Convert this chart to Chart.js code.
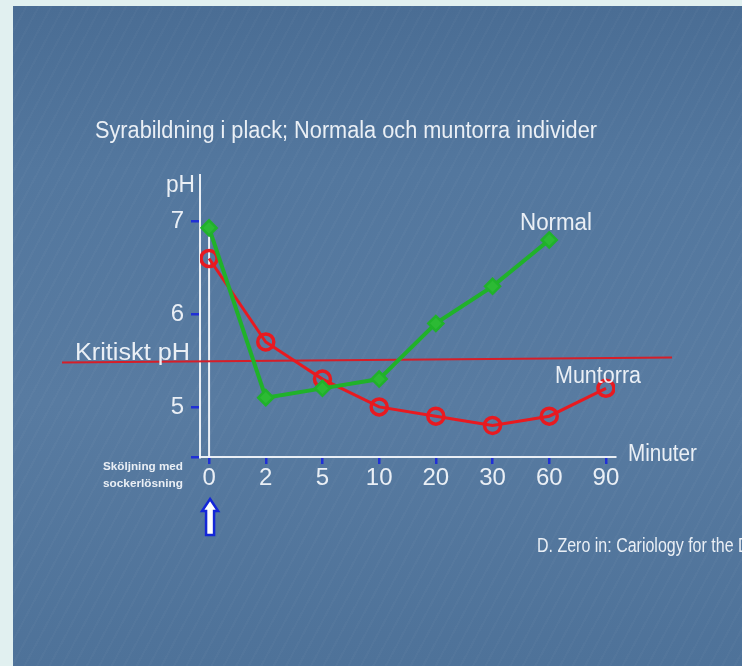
<!DOCTYPE html>
<html>
<head>
<meta charset="utf-8">
<script src="https://cdn.jsdelivr.net/npm/chart.js@4"></script>
<style>
  html, body { margin: 0; padding: 0; background: #e1f0f0; }
  #slide {
    position: absolute; left: 13px; top: 6px; width: 729px; height: 660px;
    background:
      repeating-linear-gradient(118deg, rgba(255,255,255,0.025) 0 2px, rgba(255,255,255,0) 2px 11px),
      linear-gradient(180deg, #4a6d94 0%, #53779e 25%, #587ba1 60%, #4e7299 100%);
  }
  #chart { position: absolute; left: 0; top: 0; }
</style>
</head>
<body>
<div id="slide"></div>
<canvas id="chart" width="742" height="666" style="width:742px;height:666px"></canvas>
<script>
// minutes after rinse with sugar solution
const minutes = ['0', '2', '5', '10', '20', '30', '60', '90'];
// plaque pH, normal individuals
const normalPh = [6.93, 5.1, 5.2, 5.3, 5.9, 6.3, 6.8, null];
// plaque pH, dry-mouth individuals
const muntorraPh = [6.6, 5.7, 5.3, 5.0, 4.9, 4.8, 4.9, 5.2];
const phTicks = [5, 6, 7];
const kritisktPh = 5.5;

const GREEN = 'rgb(32,178,42)';
const RED = 'rgb(232,26,32)';
const WHITE = 'rgba(242,246,250,0.95)';
const TICKBLUE = '#1f2fd6';
const NARROW = "'Liberation Sans Narrow', 'Arial Narrow', 'Liberation Sans', Arial, sans-serif";

// draw text squeezed to a given width
function fitText(ctx, s, x, y, size, w, opts = {}) {
  ctx.save();
  ctx.font = (opts.bold ? 'bold ' : '') + size + 'px ' + (opts.family || "'Liberation Sans', Arial, sans-serif");
  ctx.fillStyle = opts.color || WHITE;
  ctx.textBaseline = 'alphabetic';
  const natural = ctx.measureText(s).width;
  const sx = w ? w / natural : (opts.sx || 1);
  ctx.translate(x, y);
  ctx.scale(sx, 1);
  ctx.fillText(s, 0, 0);
  ctx.restore();
}

const slidePlugin = {
  id: 'slideText',
  beforeDatasetsDraw(chart) {
    const { ctx, scales: { x, y } } = chart;
    ctx.save();
    // vertical line at time 0
    ctx.strokeStyle = WHITE;
    ctx.lineWidth = 2;
    ctx.beginPath();
    ctx.moveTo(x.getPixelForValue(0), y.getPixelForValue(7));
    ctx.lineTo(x.getPixelForValue(0), y.bottom);
    ctx.stroke();
    // critical pH line
    const yk = y.getPixelForValue(kritisktPh);
    ctx.strokeStyle = 'rgb(214,30,40)';
    ctx.lineWidth = 2;
    ctx.beginPath();
    ctx.moveTo(62, yk + 2);
    ctx.lineTo(672, yk - 3);
    ctx.stroke();
    ctx.restore();
  },
  afterDraw(chart) {
    const { ctx, scales: { x } } = chart;
    fitText(ctx, 'Syrabildning i plack; Normala och muntorra individer', 95, 138, 23, 502);
    fitText(ctx, 'pH', 166, 192, 23, 29);
    fitText(ctx, 'Kritiskt pH', 75, 360, 23, 115);
    fitText(ctx, 'Normal', 520, 230, 23, 72);
    fitText(ctx, 'Muntorra', 555, 383, 23, 86);
    fitText(ctx, 'Minuter', 628, 461, 23, 69);
    fitText(ctx, 'D. Zero in: Cariology for the Dental Practitioner', 537, 552, 20, null, { sx: 0.8 });
    fitText(ctx, 'Sköljning med', 103, 470, 10, 80, { bold: true });
    fitText(ctx, 'sockerlösning', 103, 487, 10, 80, { bold: true });

    // arrow under time 0
    const ax = x.getPixelForValue(0) + 1;
    ctx.save();
    ctx.fillStyle = '#ffffff';
    ctx.strokeStyle = '#1326d8';
    ctx.lineWidth = 2.5;
    ctx.lineJoin = 'miter';
    ctx.beginPath();
    ctx.moveTo(ax, 499);
    ctx.lineTo(ax + 8, 511);
    ctx.lineTo(ax + 4, 511);
    ctx.lineTo(ax + 4, 535);
    ctx.lineTo(ax - 4, 535);
    ctx.lineTo(ax - 4, 511);
    ctx.lineTo(ax - 8, 511);
    ctx.closePath();
    ctx.fill();
    ctx.stroke();
    ctx.restore();
  }
};

new Chart(document.getElementById('chart'), {
  type: 'line',
  data: {
    datasets: [
      {
        label: 'Normal',
        data: normalPh.map((v, i) => ({ x: i, y: v })),
        borderColor: GREEN,
        backgroundColor: GREEN,
        borderWidth: 4,
        pointStyle: 'rectRot',
        pointRadius: 7.5,
        pointBorderWidth: 2.5,
        pointBackgroundColor: 'rgb(44,186,52)',
        tension: 0,
        spanGaps: false
      },
      {
        label: 'Muntorra',
        data: muntorraPh.map((v, i) => ({ x: i, y: v })),
        borderColor: RED,
        backgroundColor: 'rgba(0,0,0,0)',
        borderWidth: 3,
        pointStyle: 'circle',
        pointRadius: 8,
        pointBorderWidth: 3.5,
        pointBackgroundColor: 'rgba(0,0,0,0)',
        tension: 0
      }
    ]
  },
  options: {
    responsive: false,
    animation: false,
    layout: { padding: { left: 0, top: 175, right: 127, bottom: 179 } },
    plugins: { legend: { display: false }, tooltip: { enabled: false } },
    scales: {
      x: {
        type: 'linear',
        min: -0.16,
        max: 7.16,
        afterBuildTicks: scale => { scale.ticks = minutes.map((m, i) => ({ value: i })); },
        afterFit: scale => { scale.height = 30; },
        ticks: {
          callback: v => minutes[v] ?? '',
          color: WHITE,
          font: { family: NARROW, size: 24 },
          padding: 0,
          maxRotation: 0,
          autoSkip: false
        },
        grid: { drawOnChartArea: false, drawTicks: true, tickLength: 7, color: TICKBLUE, lineWidth: 2.5 },
        border: { color: WHITE, width: 2 }
      },
      y: {
        min: 4.46,
        max: 7.5,
        afterBuildTicks: scale => { scale.ticks = [scale.min, ...phTicks].map(v => ({ value: v })); },
        afterFit: scale => { scale.width = 200; },
        ticks: {
          callback: v => phTicks.includes(v) ? String(v) : '',
          color: WHITE,
          font: { family: NARROW, size: 24 },
          padding: 7
        },
        grid: { drawOnChartArea: false, drawTicks: true, tickLength: 9, color: TICKBLUE, lineWidth: 2.5 },
        border: { color: WHITE, width: 2 }
      }
    }
  },
  plugins: [slidePlugin]
});
</script>
</body>
</html>
